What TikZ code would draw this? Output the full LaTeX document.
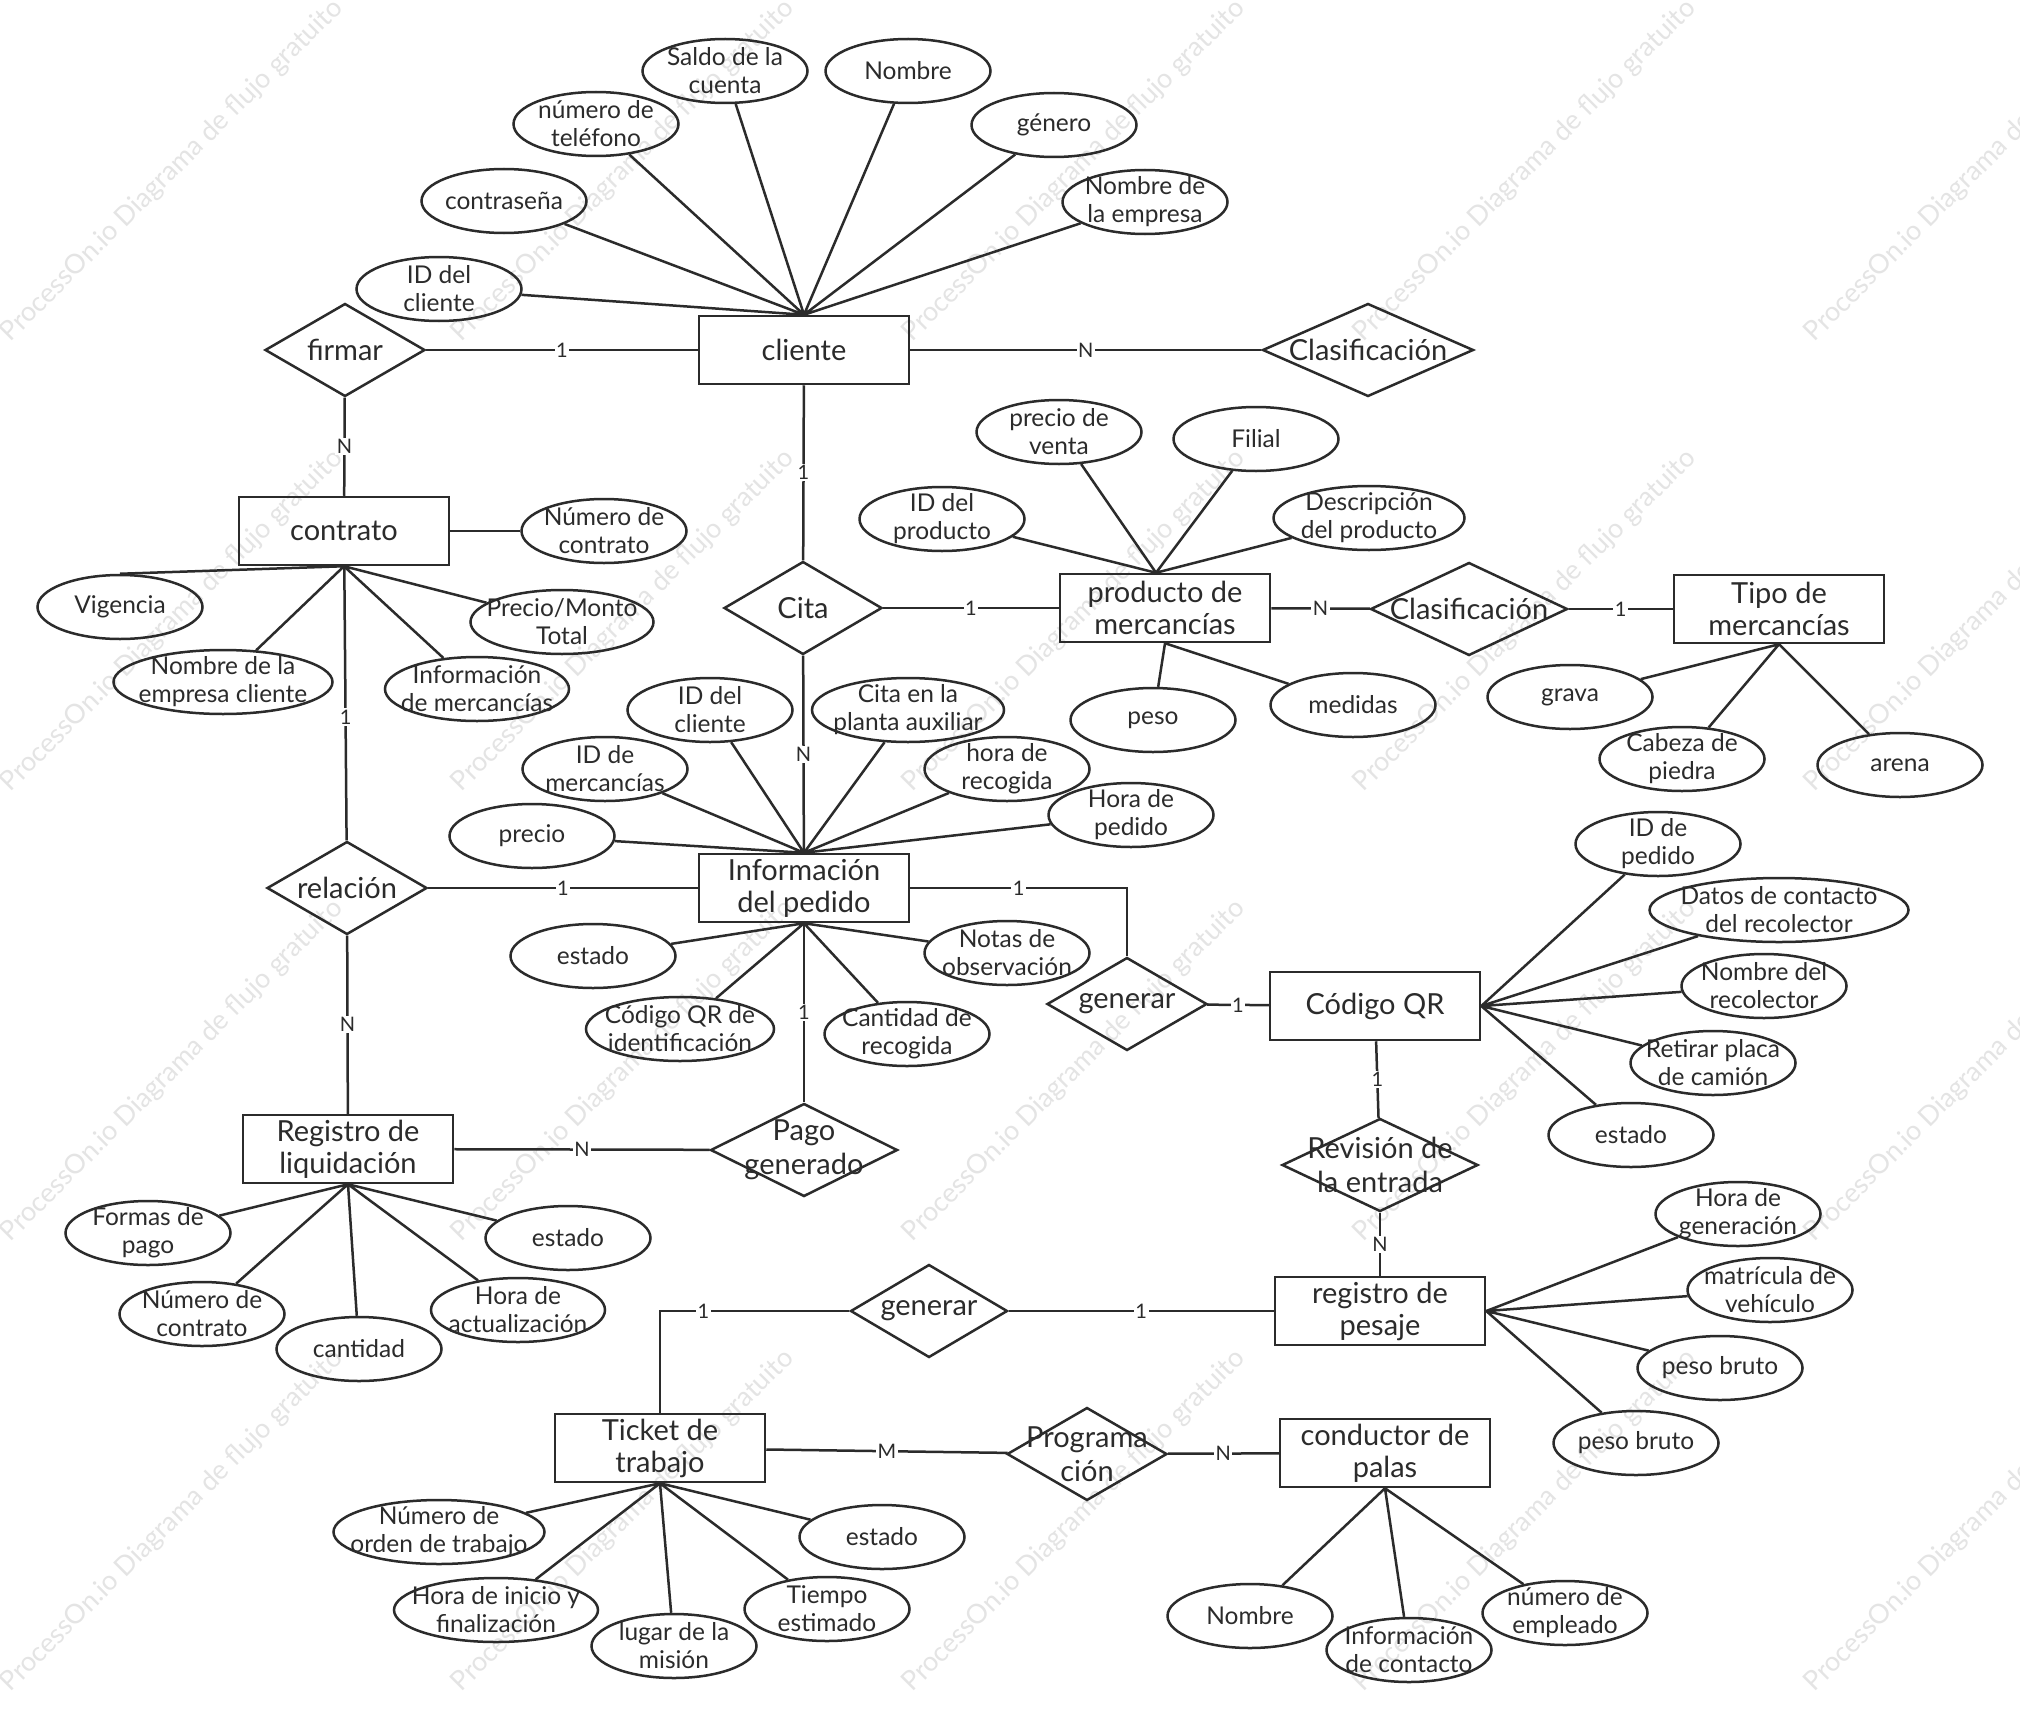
\documentclass[tikz,border=0pt]{standalone}
\usepackage{fontspec}
\setmainfont{Lato}
\usetikzlibrary{shapes.geometric}
\definecolor{linea}{HTML}{2B2B2B}
\definecolor{marca}{HTML}{E4E4E4}
\newcommand{\entfont}{\fontsize{29}{32}\selectfont}
\newcommand{\relfont}{\fontsize{29}{34}\selectfont}
\newcommand{\attrfont}{\fontsize{24.5}{28}\selectfont}
\newcommand{\cardfont}{\fontsize{20}{22}\selectfont}
\newcommand{\marcafont}{\fontsize{27}{29}\selectfont}
\tikzset{
  ent/.style={draw=linea, line width=2.5pt, minimum width=210pt, minimum height=68pt, inner sep=0pt, align=center, font=\entfont, text=linea},
  rel/.style={diamond, draw=linea, line width=2.5pt, minimum width=160pt, minimum height=93pt, inner sep=0pt, label={[reltext]center:#1}},
  attr/.style={ellipse, draw=linea, line width=2.5pt, minimum width=165pt, minimum height=64pt, inner sep=0pt, label={[attrtext]center:#1}},
  reltext/.style={font=\relfont, align=center, text=linea, inner sep=0pt},
  attrtext/.style={font=\attrfont, align=center, text=linea, inner sep=0pt},
  card/.style={fill=white, font=\cardfont, text=linea, inner sep=1.5pt},
  conn/.style={draw=linea, line width=2.5pt},
  marca/.style={font=\marcafont, text=marca, rotate=45, inner sep=0pt}
}
\begin{document}
\begin{tikzpicture}[x=1pt, y=-1pt]
  \useasboundingbox (0,0) rectangle (2020,1723);
  \fill[white] (0,0) rectangle (2020,1723);
  \clip (0,0) rectangle (2020,1723);

  % marca de agua
  \foreach \i in {0,...,4}
    \foreach \j in {0,...,3}
      \node[marca] (wm\i\j) at ({172+451*\i},{171+450*\j}) {ProcessOn.io Diagrama de flujo gratuito};

  % entidades
  \node[ent] (cli) at (804,350) {cliente};
  \node[ent] (con) at (344,531) {contrato};
  \node[ent] (prod) at (1165,608) {producto de\\mercancías};
  \node[ent] (tipo) at (1779,609) {Tipo de\\mercancías};
  \node[ent] (info) at (804,888) {Información\\del pedido};
  \node[ent] (qr) at (1375,1006) {Código QR};
  \node[ent] (liq) at (348,1149) {Registro de\\liquidación};
  \node[ent] (pes) at (1380,1311) {registro de\\pesaje};
  \node[ent] (tick) at (660,1448) {Ticket de\\trabajo};
  \node[ent] (cond) at (1385,1453) {conductor de\\palas};

  % relaciones
  \node[rel=firmar] (firmar) at (345,350) {};
  \node[rel=Clasificación, minimum width=211pt] (clas1) at (1368,350) {};
  \node[rel=Cita, minimum width=158pt] (cita) at (803,608) {};
  \node[rel=Clasificación, minimum width=197pt] (clas2) at (1469,609) {};
  \node[rel=relación] (relac) at (347,888) {};
  \node[rel=generar] (gen1) at (1127,1004) {};
  \node[rel={Pago\\generado}, minimum width=187pt] (pago) at (804,1150) {};
  \node[rel={Revisión de\\la entrada}, minimum width=196pt] (revis) at (1380,1165) {};
  \node[rel=generar, minimum width=157pt] (gen2) at (929,1311) {};
  \node[rel={Programa\\ción}] (prog) at (1087,1454) {};

  % atributos de cliente
  \node[attr={Saldo de la\\cuenta}] (saldo) at (725,71) {};
  \node[attr=Nombre] (nomcli) at (908,71) {};
  \node[attr={número de\\teléfono}] (tel) at (596,124) {};
  \node[attr=género] (genero) at (1054,125) {};
  \node[attr=contraseña] (pass) at (504,201) {};
  \node[attr={Nombre de\\la empresa}] (empresa) at (1145,202) {};
  \node[attr={ID del\\cliente}] (idcli) at (439,289) {};

  % atributos de contrato
  \node[attr={Número de\\contrato}] (numcon) at (604,531) {};
  \node[attr=Vigencia] (vig) at (120,607) {};
  \node[attr={Precio/Monto\\Total}, minimum width=183pt] (monto) at (562,622) {};
  \node[attr={Nombre de la\\empresa cliente}, minimum width=219pt] (empcli) at (223,682) {};
  \node[attr={Información\\de mercancías}, minimum width=184pt] (infomer) at (477,689) {};

  % atributos de producto
  \node[attr={precio de\\venta}] (pventa) at (1059,432) {};
  \node[attr=Filial] (filial) at (1256,439) {};
  \node[attr={ID del\\producto}] (idprod) at (942,519) {};
  \node[attr={Descripción\\del producto}, minimum width=191pt] (desc) at (1369,518) {};
  \node[attr=peso] (peso) at (1153,720) {};
  \node[attr=medidas] (medidas) at (1353,705) {};

  % atributos de tipo
  \node[attr=grava] (grava) at (1570,697) {};
  \node[attr={Cabeza de\\piedra}] (cabeza) at (1682,759) {};
  \node[attr=arena] (arena) at (1900,765) {};

  % atributos del pedido
  \node[attr={ID del\\cliente}] (idcli2) at (710,710) {};
  \node[attr={Cita en la\\planta auxiliar}, minimum width=192pt] (planta) at (908,710) {};
  \node[attr={ID de\\mercancías}] (idmer) at (605,769) {};
  \node[attr={hora de\\recogida}] (hrecog) at (1007,769) {};
  \node[attr={Hora de\\pedido}] (hped) at (1131,815) {};
  \node[attr=precio] (precio) at (532,836) {};
  \node[attr=estado] (est1) at (593,956) {};
  \node[attr={Notas de\\observación}] (notas) at (1007,953) {};
  \node[attr={Código QR de\\identificación}, minimum width=188pt] (cqr) at (680,1029) {};
  \node[attr={Cantidad de\\recogida}] (cant) at (907,1034) {};

  % atributos del código QR
  \node[attr={ID de\\pedido}] (idped) at (1658,844) {};
  \node[attr={Datos de contacto\\del recolector}, minimum width=259pt] (datos) at (1779,910) {};
  \node[attr={Nombre del\\recolector}] (nomrec) at (1764,986) {};
  \node[attr={Retirar placa\\de camión}] (placa) at (1713,1063) {};
  \node[attr=estado] (est2) at (1631,1135) {};

  % atributos de liquidación
  \node[attr={Formas de\\pago}] (formas) at (148,1233) {};
  \node[attr=estado] (est3) at (568,1238) {};
  \node[attr={Número de\\contrato}] (numcon2) at (202,1314) {};
  \node[attr={Hora de\\actualización}, minimum width=174pt] (hact) at (518,1310) {};
  \node[attr=cantidad] (cant2) at (359,1349) {};

  % atributos de pesaje
  \node[attr={Hora de\\generación}] (hgen) at (1738,1214) {};
  \node[attr={matrícula de\\vehículo}] (matric) at (1770,1290) {};
  \node[attr={peso bruto}] (pbruto1) at (1720,1368) {};
  \node[attr={peso bruto}] (pbruto2) at (1636,1443) {};

  % atributos del ticket
  \node[attr={Número de\\orden de trabajo}, minimum width=211pt] (norden) at (439,1532) {};
  \node[attr=estado] (est4) at (882,1537) {};
  \node[attr={Hora de inicio y\\finalización}, minimum width=204pt] (hini) at (496,1610) {};
  \node[attr={Tiempo\\estimado}] (tiempo) at (827,1609) {};
  \node[attr={lugar de la\\misión}] (lugar) at (674,1646) {};

  % atributos del conductor
  \node[attr=Nombre] (nomcond) at (1250,1616) {};
  \node[attr={Información\\de contacto}] (contacto) at (1409,1650) {};
  \node[attr={número de\\empleado}] (numemp) at (1565,1613) {};

  \coordinate (prodtop) at ([xshift=-9pt]prod.north);

  % lineas de atributos
  \draw[conn] (saldo) -- (cli.north) (nomcli) -- (cli.north) (tel) -- (cli.north)
    (genero) -- (cli.north) (pass) -- (cli.north) (empresa) -- (cli.north) (idcli) -- (cli.north);
  \draw[conn] (numcon) -- (con);
  \draw[conn] (vig.north) -- (con.south) (monto) -- (con.south) (empcli) -- (con.south) (infomer) -- (con.south);
  \draw[conn] (pventa) -- (prodtop) (filial) -- (prodtop) (idprod) -- (prodtop) (desc) -- (prodtop);
  \draw[conn] (peso) -- (prod.south) (medidas) -- (prod.south);
  \draw[conn] (grava) -- (tipo.south) (cabeza) -- (tipo.south) (arena) -- (tipo.south);
  \draw[conn] (idcli2) -- (info.north) (planta) -- (info.north) (idmer) -- (info.north)
    (hrecog) -- (info.north) (hped) -- (info.north) (precio) -- (info.north);
  \draw[conn] (est1) -- (info.south) (notas) -- (info.south) (cqr) -- (info.south) (cant) -- (info.south);
  \draw[conn] (idped) -- (qr.east) (datos) -- (qr.east) (nomrec) -- (qr.east) (placa) -- (qr.east) (est2) -- (qr.east);
  \draw[conn] (formas) -- (liq.south) (est3) -- (liq.south) (numcon2) -- (liq.south) (hact) -- (liq.south) (cant2) -- (liq.south);
  \draw[conn] (hgen) -- (pes.east) (matric) -- (pes.east) (pbruto1) -- (pes.east) (pbruto2) -- (pes.east);
  \draw[conn] (norden) -- (tick.south) (est4) -- (tick.south) (hini) -- (tick.south) (tiempo) -- (tick.south) (lugar) -- (tick.south);
  \draw[conn] (nomcond) -- (cond.south) (contacto) -- (cond.south) (numemp) -- (cond.south);

  % relaciones y cardinalidad
  \draw[conn] (firmar) -- node[card] {1} (cli);
  \draw[conn] (cli) -- node[card] {N} (clas1);
  \draw[conn] (firmar) -- node[card] {N} (con);
  \draw[conn] (cli) -- node[card] {1} (cita);
  \draw[conn] (cita) -- node[card] {1} (prod);
  \draw[conn] (prod) -- node[card] {N} (clas2);
  \draw[conn] (clas2) -- node[card] {1} (tipo);
  \draw[conn] (cita) -- node[card] {N} (info);
  \draw[conn] (con) -- node[card, pos=0.55] {1} (relac);
  \draw[conn] (relac) -- node[card] {1} (info);
  \draw[conn] (relac) -- node[card] {N} (liq);
  \draw[conn] (info.east) -| node[card, pos=0.25] {1} (gen1.north);
  \draw[conn] (gen1) -- node[card] {1} (qr);
  \draw[conn] (info) -- node[card] {1} (pago);
  \draw[conn] (pago) -- node[card] {N} (liq);
  \draw[conn] (qr) -- node[card] {1} (revis);
  \draw[conn] (revis) -- node[card] {N} (pes);
  \draw[conn] (pes) -- node[card] {1} (gen2);
  \draw[conn] (gen2.west) -| node[card, pos=0.385] {1} (tick.north);
  \draw[conn] (tick) -- node[card] {M} (prog);
  \draw[conn] (prog) -- node[card] {N} (cond);
\end{tikzpicture}
\end{document}
